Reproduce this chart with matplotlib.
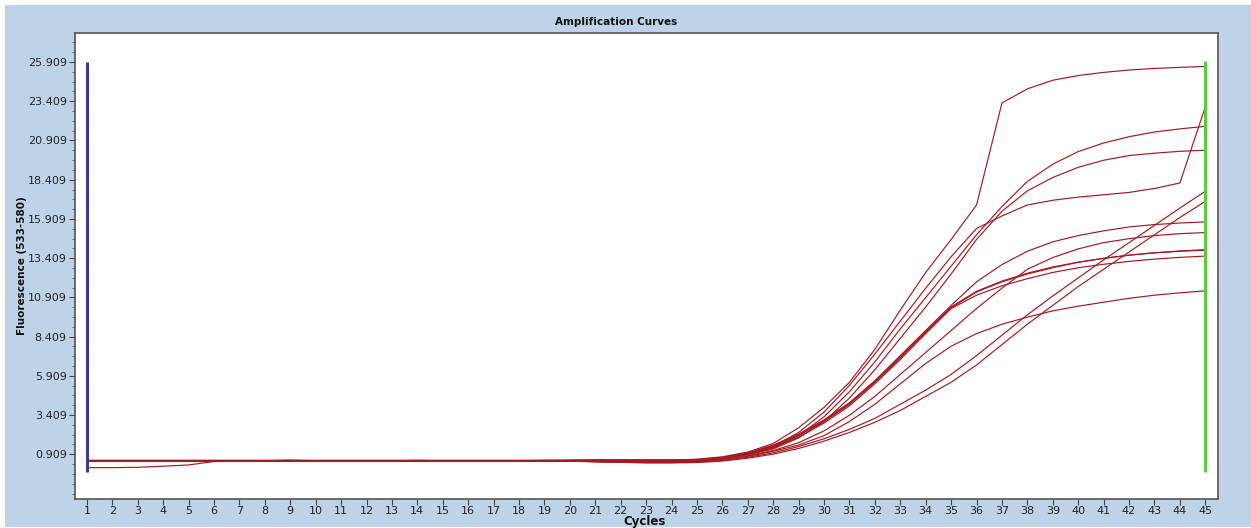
import numpy as np
import matplotlib.pyplot as plt
from matplotlib.patches import Rectangle

# -------------------------------------------------------------------------------------------------- #

cycles = list(range(1, 46))

# Fluorescence per cycle (1..45) for each sample
curve_a = [0.50, 0.50, 0.50, 0.50, 0.50, 0.50, 0.50, 0.50, 0.52, 0.50, 0.50, 0.50, 0.50, 0.50, 0.50, 0.50, 0.50, 0.50, 0.52, 0.52, 0.52, 0.52, 0.52, 0.52,
           0.60, 0.75, 1.05, 1.60, 2.60, 3.90, 5.50, 7.60, 10.1, 12.5, 14.6, 16.8, 23.3, 24.2, 24.75, 25.05, 25.25, 25.40, 25.50, 25.57, 25.63]
curve_b = [0.52, 0.52, 0.52, 0.52, 0.52, 0.52, 0.52, 0.52, 0.53, 0.52, 0.52, 0.52, 0.52, 0.52, 0.52, 0.52, 0.52, 0.52, 0.53, 0.53, 0.55, 0.55, 0.55, 0.55,
           0.55, 0.70, 0.95, 1.40, 2.30, 3.60, 5.30, 7.30, 9.40, 11.5, 13.5, 15.3, 16.1, 16.8, 17.10, 17.30, 17.45, 17.60, 17.85, 18.20, 23.04]
curve_c = [0.50, 0.50, 0.50, 0.50, 0.50, 0.50, 0.50, 0.50, 0.50, 0.50, 0.50, 0.50, 0.50, 0.50, 0.50, 0.50, 0.50, 0.50, 0.50, 0.52, 0.52, 0.50, 0.50, 0.50,
           0.55, 0.68, 0.90, 1.30, 2.10, 3.30, 4.90, 6.80, 8.90, 10.9, 12.9, 14.9, 16.7, 18.3, 19.40, 20.20, 20.75, 21.15, 21.45, 21.65, 21.81]
curve_d = [0.48, 0.48, 0.48, 0.48, 0.48, 0.48, 0.48, 0.48, 0.50, 0.48, 0.48, 0.48, 0.48, 0.48, 0.48, 0.48, 0.48, 0.48, 0.48, 0.48, 0.45, 0.45, 0.45, 0.45,
           0.52, 0.65, 0.88, 1.25, 1.95, 3.00, 4.50, 6.30, 8.30, 10.3, 12.4, 14.6, 16.4, 17.7, 18.55, 19.20, 19.65, 19.95, 20.10, 20.22, 20.29]
curve_f = [0.50, 0.50, 0.50, 0.50, 0.50, 0.50, 0.50, 0.50, 0.50, 0.50, 0.50, 0.50, 0.50, 0.50, 0.50, 0.50, 0.50, 0.50, 0.50, 0.50, 0.50, 0.50, 0.50, 0.50,
           0.55, 0.70, 1.00, 1.50, 2.20, 3.10, 4.20, 5.60, 7.20, 8.80, 10.4, 11.9, 13.0, 13.85, 14.45, 14.85, 15.15, 15.40, 15.55, 15.65, 15.72]
curve_g = [0.47, 0.47, 0.47, 0.47, 0.47, 0.47, 0.47, 0.47, 0.47, 0.47, 0.47, 0.47, 0.47, 0.47, 0.47, 0.47, 0.47, 0.47, 0.47, 0.47, 0.42, 0.40, 0.40, 0.40,
           0.45, 0.58, 0.82, 1.15, 1.65, 2.40, 3.40, 4.60, 6.00, 7.40, 8.80, 10.2, 11.5, 12.7, 13.45, 14.00, 14.40, 14.65, 14.85, 14.97, 15.04]
curve_h1 = [0.52, 0.52, 0.52, 0.52, 0.52, 0.52, 0.52, 0.52, 0.52, 0.52, 0.52, 0.52, 0.52, 0.52, 0.52, 0.52, 0.52, 0.52, 0.52, 0.52, 0.55, 0.55, 0.55, 0.55,
            0.55, 0.70, 0.98, 1.45, 2.15, 3.05, 4.15, 5.55, 7.10, 8.75, 10.3, 11.3, 11.95, 12.45, 12.85, 13.15, 13.40, 13.60, 13.75, 13.85, 13.92]
curve_h2 = [0.50, 0.50, 0.50, 0.50, 0.50, 0.50, 0.50, 0.50, 0.52, 0.50, 0.50, 0.50, 0.50, 0.52, 0.50, 0.50, 0.50, 0.50, 0.50, 0.52, 0.52, 0.52, 0.52, 0.52,
            0.53, 0.68, 0.95, 1.40, 2.10, 3.00, 4.10, 5.50, 7.05, 8.70, 10.25, 11.25, 11.9, 12.4, 12.80, 13.15, 13.40, 13.60, 13.75, 13.87, 13.95]
curve_i = [0.48, 0.48, 0.48, 0.48, 0.48, 0.48, 0.48, 0.48, 0.48, 0.48, 0.48, 0.48, 0.48, 0.48, 0.48, 0.48, 0.48, 0.48, 0.48, 0.48, 0.48, 0.48, 0.48, 0.48,
           0.50, 0.65, 0.92, 1.35, 2.00, 2.90, 4.00, 5.40, 6.95, 8.60, 10.2, 11.05, 11.65, 12.1, 12.50, 12.80, 13.02, 13.20, 13.35, 13.46, 13.54]
curve_j = [0.50, 0.50, 0.50, 0.50, 0.50, 0.50, 0.50, 0.50, 0.50, 0.50, 0.50, 0.50, 0.50, 0.50, 0.50, 0.50, 0.50, 0.50, 0.50, 0.50, 0.48, 0.45, 0.42, 0.42,
           0.45, 0.58, 0.78, 1.10, 1.50, 2.10, 3.00, 4.10, 5.40, 6.70, 7.80, 8.60, 9.20, 9.65, 10.05, 10.35, 10.60, 10.85, 11.05, 11.20, 11.33]
curve_k = [0.50, 0.50, 0.50, 0.50, 0.50, 0.50, 0.50, 0.50, 0.50, 0.50, 0.50, 0.50, 0.50, 0.50, 0.50, 0.50, 0.50, 0.50, 0.50, 0.50, 0.45, 0.40, 0.38, 0.38,
           0.42, 0.52, 0.72, 1.00, 1.40, 1.90, 2.50, 3.20, 4.10, 5.00, 6.00, 7.20, 8.50, 9.80, 11.00, 12.15, 13.30, 14.40, 15.50, 16.60, 17.67]
curve_l = [0.06, 0.06, 0.08, 0.15, 0.23, 0.45, 0.47, 0.47, 0.47, 0.47, 0.47, 0.47, 0.47, 0.47, 0.47, 0.47, 0.47, 0.47, 0.47, 0.47, 0.45, 0.40, 0.36, 0.36,
           0.38, 0.48, 0.66, 0.92, 1.28, 1.75, 2.30, 2.95, 3.70, 4.60, 5.50, 6.60, 7.90, 9.20, 10.40, 11.60, 12.70, 13.80, 14.90, 16.00, 17.03]

all_curves = [curve_a, curve_b, curve_c, curve_d, curve_f, curve_g, curve_h1, curve_h2, curve_i, curve_j, curve_k, curve_l]

y_ticks = [0.909, 3.409, 5.909, 8.409, 10.909, 13.409, 15.909, 18.409, 20.909, 23.409, 25.909]

# -------------------------------------------------------------------------------------------------- #

bg = '#bed3e8'
fig = plt.figure(figsize=(12.51, 5.28), dpi=100, facecolor='white')
fig.patches.append(Rectangle((5/1251, 1/528), 1, 1 - 6/528, transform=fig.transFigure,
                             facecolor=bg, edgecolor='none', zorder=-10))

ax = fig.add_axes([75/1251, 29/528, 1143/1251, 466/528])
ax.set_facecolor('white')

for c in all_curves:
    ax.plot(cycles, c, color='#a31a22', lw=0.85)

# start / end cycle markers
ax.plot([1, 1], [-0.2, 25.909], color='#3d3a8e', lw=2.2, solid_capstyle='butt')
ax.plot([45, 45], [-0.2, 26.0], color='#5ccc3c', lw=2.2, solid_capstyle='butt')

ax.set_xlim(0.53, 45.5)
ax.set_ylim(-1.94, 27.76)
ax.set_xticks(cycles)
ax.set_xticklabels([str(c) for c in cycles])
ax.set_yticks(y_ticks)
ax.set_yticklabels([f'{v:.3f}' for v in y_ticks])
ax.set_yticks(np.arange(0.909 - 2.5, 27.5, 0.625), minor=True)

ax.tick_params(axis='both', which='major', labelsize=8, colors='#444444', labelcolor='#222222',
               length=4, width=0.8, direction='out')
ax.tick_params(axis='x', which='major', pad=1)
ax.tick_params(axis='y', which='major', pad=2)
ax.tick_params(axis='y', which='minor', length=2, width=0.6, colors='#444444')
for s in ax.spines.values():
    s.set_color('#555555')
    s.set_linewidth(1.2)

fig.text(616/1251, 1 - 22/528, 'Amplification Curves', ha='center', va='center',
         fontsize=7.5, fontweight='bold', color='#111111')
fig.text(645/1251, 1 - 522/528, 'Cycles', ha='center', va='center',
         fontsize=8.5, fontweight='bold', color='#111111')
fig.text(22/1251, 1 - 266/528, 'Fluorescence (533-580)', ha='center', va='center', rotation=90,
         fontsize=7.5, fontweight='bold', color='#111111',
         family=['Liberation Sans Narrow', 'DejaVu Sans'])

fig.savefig('out.png', dpi=100, facecolor=fig.get_facecolor())
